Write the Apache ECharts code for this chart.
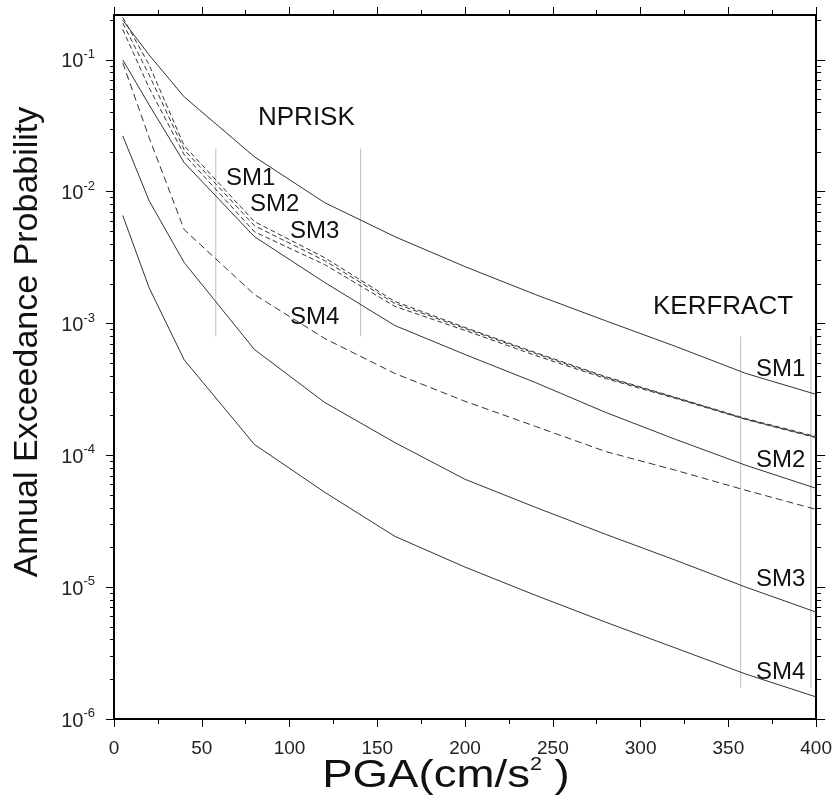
<!DOCTYPE html>
<html>
<head>
<meta charset="utf-8">
<script src="https://cdn.jsdelivr.net/npm/echarts@6/dist/echarts.min.js"></script>
<style>html,body{margin:0;padding:0;background:#fff}#c{width:835px;height:802px}</style>
</head>
<body>
<div id="c"></div>
<script>
// ---- data ----
const pga = [5, 20, 40, 80, 120, 160, 200, 240, 280, 320, 360, 400];
const nprSM1 = [0.21, 0.0917, 0.0223, 5.93e-3, 3.16e-3, 1.47e-3, 9.33e-4, 6.03e-4, 3.96e-4, 2.75e-4, 1.90e-4, 1.39e-4];
const nprSM2 = [0.19, 0.077, 0.0208, 5.52e-3, 3.0e-3, 1.42e-3, 9.17e-4, 5.93e-4, 3.90e-4, 2.73e-4, 1.88e-4, 1.37e-4];
const nprSM3 = [0.17, 0.0614, 0.0191, 4.97e-3, 2.8e-3, 1.35e-3, 8.86e-4, 5.73e-4, 3.83e-4, 2.70e-4, 1.87e-4, 1.36e-4];
const nprSM4 = [0.095, 0.0257, 5.15e-3, 1.66e-3, 7.7e-4, 4.18e-4, 2.57e-4, 1.66e-4, 1.07e-4, 7.7e-5, 5.43e-5, 3.89e-5];
const kerSM1 = [0.20, 0.109, 0.0524, 0.0184, 8.26e-3, 4.56e-3, 2.70e-3, 1.66e-3, 1.05e-3, 6.7e-4, 4.18e-4, 2.9e-4];
const kerSM2 = [0.10, 0.0456, 0.0166, 4.56e-3, 2.05e-3, 9.66e-4, 5.82e-4, 3.57e-4, 2.12e-4, 1.32e-4, 8.4e-5, 5.62e-5];
const kerSM3 = [0.0265, 8.55e-3, 2.9e-3, 6.35e-4, 2.52e-4, 1.25e-4, 6.58e-5, 4.04e-5, 2.52e-5, 1.60e-5, 1.0e-5, 6.47e-6];
const kerSM4 = [6.6e-3, 1.87e-3, 5.3e-4, 1.21e-4, 5.25e-5, 2.43e-5, 1.42e-5, 8.69e-6, 5.43e-6, 3.45e-6, 2.19e-6, 1.47e-6];
// grey separator lines: [pga, probTop, probBottom]
const sepLines = [[58, 0.0212, 8.0e-4], [140.5, 0.0212, 8.0e-4], [357, 8.0e-4, 1.72e-6], [397, 8.0e-4, 1.72e-6]];
const xTickValues = [0, 50, 100, 150, 200, 250, 300, 350, 400];
const yTickExponents = [-6, -5, -4, -3, -2, -1];
const yMin = 1e-6, yMax = 0.219;

// ---- build ----
const lg = Math.log10;
const majorY = yTickExponents.slice();
const minorY = [];
for (let e = -6; e <= -1; e++) for (let m = 2; m <= 9; m++) { const v = lg(m) + e; if (v <= lg(yMax)) minorY.push(v); }
const font = '"Liberation Sans", Arial, Helvetica, sans-serif';
const lineCol = '#333';

function mk(name, arr, dash, w) {
  return {
    name: name, type: 'line', xAxisIndex: 0, yAxisIndex: 0, symbol: 'none', silent: true,
    data: pga.map((x, i) => [x, arr[i]]),
    lineStyle: { color: lineCol, width: w || 1, type: dash || 'solid' }, z: 3
  };
}
const series = [
  mk('KERFRACT SM1', kerSM1), mk('KERFRACT SM2', kerSM2), mk('KERFRACT SM3', kerSM3), mk('KERFRACT SM4', kerSM4),
  mk('NPRISK SM1', nprSM1, [5, 3]), mk('NPRISK SM2', nprSM2, [5, 3]), mk('NPRISK SM3', nprSM3, [5, 3]),
  mk('NPRISK SM4', nprSM4, [7, 4])
];
sepLines.forEach((s, i) => series.push({
  type: 'line', xAxisIndex: 0, yAxisIndex: 0, symbol: 'none', silent: true,
  data: [[s[0], s[1]], [s[0], s[2]]], lineStyle: { color: '#bdbdbd', width: 1 }, z: 2
}));

const gridPos = { left: 114, top: 15, width: 703, height: 704 };
const tickAxisBase = {
  type: 'value', min: lg(yMin), max: lg(yMax), gridIndex: 0,
  splitLine: { show: false },
  axisLine: { show: true, onZero: false, lineStyle: { color: '#000', width: 2 } }
};

const option = {
  animation: false,
  backgroundColor: '#fff',
  grid: Object.assign({ containLabel: false }, gridPos),
  xAxis: [
    { type: 'value', position: 'bottom', min: 0, max: 400, interval: 50,
      axisLine: { show: true, onZero: false, lineStyle: { color: '#000', width: 2 } },
      axisTick: { show: true, length: 8, lineStyle: { color: '#000', width: 1 } },
      minorTick: { show: true, splitNumber: 2, length: 5, lineStyle: { color: '#000', width: 1 } },
      splitLine: { show: false }, minorSplitLine: { show: false },
      axisLabel: { show: true, margin: 20, fontSize: 19, color: '#222', fontFamily: font,
        customValues: xTickValues } },
    { type: 'value', position: 'top', min: 0, max: 400, interval: 50,
      axisLine: { show: true, onZero: false, lineStyle: { color: '#000', width: 2 } },
      axisTick: { show: true, length: 8, lineStyle: { color: '#000', width: 1 } },
      minorTick: { show: true, splitNumber: 2, length: 5, lineStyle: { color: '#000', width: 1 } },
      splitLine: { show: false }, axisLabel: { show: false } }
  ],
  yAxis: [
    { type: 'log', logBase: 10, min: yMin, max: yMax, position: 'left',
      axisLine: { show: false }, axisTick: { show: false }, axisLabel: { show: false }, splitLine: { show: false } },
    Object.assign({}, tickAxisBase, { position: 'left',
      axisTick: { show: true, length: 8, customValues: majorY, lineStyle: { color: '#000', width: 1 } },
      axisLabel: { show: true, margin: 19, customValues: majorY, fontFamily: font, color: '#222',
        formatter: v => '{b|10}{s|' + Math.round(v) + '}',
        rich: { b: { fontSize: 20, fontFamily: font, color: '#222', lineHeight: 24, verticalAlign: 'bottom' },
                s: { fontSize: 13, fontFamily: font, color: '#222', lineHeight: 13, verticalAlign: 'top' } } } }),
    Object.assign({}, tickAxisBase, { position: 'left',
      axisTick: { show: true, length: 4, customValues: minorY, lineStyle: { color: '#000', width: 1 } },
      axisLabel: { show: false } }),
    Object.assign({}, tickAxisBase, { position: 'right',
      axisTick: { show: true, length: 9, customValues: majorY, lineStyle: { color: '#000', width: 1 } },
      axisLabel: { show: false } }),
    Object.assign({}, tickAxisBase, { position: 'right',
      axisTick: { show: true, length: 5, customValues: minorY, lineStyle: { color: '#000', width: 1 } },
      axisLabel: { show: false } })
  ],
  series: series,
  graphic: [
    { type: 'text', x: 28, y: 342, rotation: Math.PI / 2,
      style: { text: 'Annual Exceedance Probability', textAlign: 'center', textVerticalAlign: 'middle',
        font: '34px ' + font, fill: '#111' } },
    { type: 'text', x: 446, y: 776, scaleX: 1.2,
      style: { text: '{a|PGA(cm/s}{s|2}{a| )}', textAlign: 'center', textVerticalAlign: 'middle',
        rich: { a: { fontSize: 38, fontFamily: font, fill: '#111', lineHeight: 40, verticalAlign: 'bottom' },
                s: { fontSize: 18, fontFamily: font, fill: '#111', lineHeight: 18, verticalAlign: 'top' } } } },
    { type: 'text', x: 258, y: 118, style: { text: 'NPRISK', textVerticalAlign: 'middle', font: '26px ' + font, fill: '#111' } },
    { type: 'text', x: 226, y: 178, style: { text: 'SM1', textVerticalAlign: 'middle', font: '24px ' + font, fill: '#111' } },
    { type: 'text', x: 250, y: 204, style: { text: 'SM2', textVerticalAlign: 'middle', font: '24px ' + font, fill: '#111' } },
    { type: 'text', x: 290, y: 231, style: { text: 'SM3', textVerticalAlign: 'middle', font: '24px ' + font, fill: '#111' } },
    { type: 'text', x: 290, y: 317, style: { text: 'SM4', textVerticalAlign: 'middle', font: '24px ' + font, fill: '#111' } },
    { type: 'text', x: 653, y: 307, style: { text: 'KERFRACT', textVerticalAlign: 'middle', font: '26px ' + font, fill: '#111' } },
    { type: 'text', x: 756, y: 369, style: { text: 'SM1', textVerticalAlign: 'middle', font: '24px ' + font, fill: '#111' } },
    { type: 'text', x: 756, y: 460, style: { text: 'SM2', textVerticalAlign: 'middle', font: '24px ' + font, fill: '#111' } },
    { type: 'text', x: 756, y: 579, style: { text: 'SM3', textVerticalAlign: 'middle', font: '24px ' + font, fill: '#111' } },
    { type: 'text', x: 756, y: 672, style: { text: 'SM4', textVerticalAlign: 'middle', font: '24px ' + font, fill: '#111' } }
  ]
};
const chart = echarts.init(document.getElementById('c'), null, { renderer: 'canvas' });
chart.setOption(option);
</script>
</body>
</html>
